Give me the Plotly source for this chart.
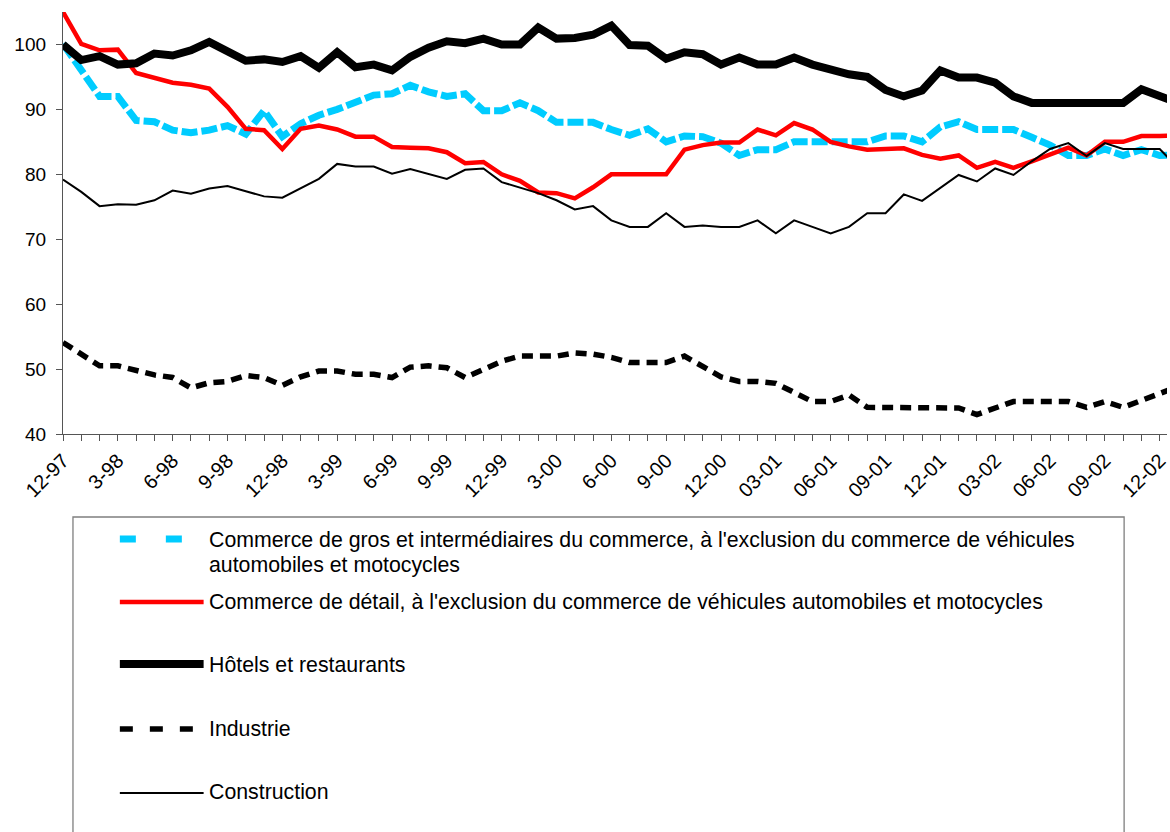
import plotly.graph_objects as go

# ---------------- data ----------------
n_months = 62  # 12-97 .. 01-03
months = []
for i in range(n_months):
    m = (11 + i) % 12 + 1
    yy = (97 + (11 + i) // 12) % 100
    year_full = 1900 + 97 + (11 + i) // 12
    months.append(f"{m}-{yy:02d}" if year_full < 2001 else f"{m:02d}-{yy:02d}")

tick_labels = [lab if idx % 3 == 0 else "" for idx, lab in enumerate(months)]

commerce_gros = [100.1, 96, 92, 92, 88.3, 88.1, 86.8, 86.4, 86.8, 87.5,
                 86.2, 89.8, 85.8, 87.8, 89.1, 90.0, 91.2, 92.2, 92.4, 93.7,
                 92.7, 92.0, 92.4, 89.8, 89.8, 91.0, 89.8, 88.0, 88.0, 88.0,
                 86.9, 86.0, 87.0, 85.0, 85.9, 85.8, 84.8, 82.9, 83.8, 83.8,
                 85.0, 85.0, 85.0, 85.0, 85.0, 85.9, 85.9, 85.0, 87.3, 88.1,
                 86.9, 86.9, 86.9, 85.7, 84.5, 82.9, 82.9, 83.9, 82.9, 83.8,
                 82.9, 83.0]

commerce_detail = [105, 100.1, 99.1, 99.2, 95.6, 94.9, 94.1, 93.8, 93.2, 90.4,
                   87.0, 86.8, 83.9, 87.0, 87.5, 86.9, 85.8, 85.8, 84.2, 84.1,
                   84.0, 83.4, 81.7, 81.9, 80.0, 79.0, 77.2, 77.1, 76.3, 78.0,
                   80.0, 80.0, 80.0, 80.0, 83.8, 84.5, 84.9, 84.9, 86.9, 86.0,
                   87.9, 86.9, 85.0, 84.3, 83.8, 83.9, 84.0, 83.0, 82.4, 82.9,
                   81.0, 81.9, 81.0, 82.0, 83.1, 84.1, 82.9, 85.0, 85.0, 85.9,
                   85.9, 86.0]

hotels = [100, 97.6, 98.2, 96.9, 97.1, 98.6, 98.3, 99.1, 100.4, 99.1,
          97.5, 97.7, 97.3, 98.2, 96.4, 98.8, 96.5, 96.9, 96.0, 98.1,
          99.5, 100.5, 100.2, 100.9, 100.0, 100.0, 102.6, 100.9, 101.0, 101.5,
          102.9, 99.9, 99.8, 97.8, 98.8, 98.5, 96.9, 98.0, 96.9, 96.9,
          98.0, 96.9, 96.0, 95.4, 95.0, 93.0, 92.0, 92.9, 96.0, 94.9,
          94.9, 94.1, 92.0, 91.0, 91.0, 91.0, 91.0, 91.0, 91.0, 93.1,
          92.0, 91.0]

industrie = [54.1, 52.4, 50.5, 50.5, 49.8, 49.1, 48.7, 47.1, 47.9, 48.1,
             49.0, 48.7, 47.5, 48.8, 49.7, 49.7, 49.2, 49.2, 48.7, 50.3,
             50.5, 50.2, 48.7, 50.0, 51.2, 52.0, 52.0, 52.0, 52.5, 52.3,
             51.8, 51.0, 51.0, 51.0, 52.0, 50.4, 48.8, 48.1, 48.1, 47.8,
             46.5, 45.0, 45.0, 46.0, 44.1, 44.1, 44.0, 44.0, 44.0, 44.0,
             43.0, 44.1, 45.0, 45.0, 45.0, 45.0, 44.1, 45.0, 44.1, 45.1,
             46.3, 47.3]

construction = [79.2, 77.3, 75.1, 75.4, 75.3, 76.0, 77.5, 77.0, 77.8, 78.2,
                77.4, 76.6, 76.4, 77.9, 79.3, 81.6, 81.2, 81.2, 80.1, 80.8,
                80.1, 79.3, 80.7, 80.9, 78.8, 77.9, 77.1, 76.0, 74.6, 75.1,
                72.9, 71.9, 71.9, 74.0, 71.9, 72.1, 71.9, 71.9, 72.9, 70.9,
                72.9, 71.9, 70.9, 71.9, 74.0, 74.0, 76.9, 75.9, 77.9, 79.9,
                78.9, 80.9, 79.9, 82.0, 83.9, 84.8, 82.8, 84.8, 83.9, 83.9,
                83.9, 81.0]

series_names = [
    ["Commerce de gros et intermédiaires du commerce, à l'exclusion du commerce de véhicules",
     "automobiles et motocycles"],
    ["Commerce de détail, à l'exclusion du commerce de véhicules automobiles et motocycles"],
    ["Hôtels et restaurants"],
    ["Industrie"],
    ["Construction"],
]
series_values = [commerce_gros, commerce_detail, hotels, industrie, construction]

# ---------------- styles ----------------
CYAN = "#00CCFF"
RED = "#FF0000"
BLACK = "#000000"
line_styles = [
    dict(color=CYAN, width=7, dash="16px,4px"),
    dict(color=RED, width=4.5),
    dict(color=BLACK, width=8),
    dict(color=BLACK, width=5.5, dash="11px,7px"),
    dict(color=BLACK, width=2),
]
legend_styles = [
    dict(color=CYAN, width=7, dash="16px,30px"),
    dict(color=RED, width=4.5),
    dict(color=BLACK, width=8),
    dict(color=BLACK, width=5.5, dash="13px,17px"),
    dict(color=BLACK, width=2),
]
legend_sample_px = [539, 602, 664, 729, 793]
legend_text_px = [[540, 565], [602], [665], [729], [792]]

FONT = "Liberation Sans, Arial, sans-serif"
W, H = 1170, 832
ML, MR, MT, MB = 63, 0, 12, 398
PW, PH = W - ML - MR, H - MT - MB


def px_x(px):
    return (px - ML) / PW


def px_y(py):
    return (H - MB - py) / PH


fig = go.Figure()
for name, vals, st in zip(series_names, series_values, line_styles):
    fig.add_trace(go.Scatter(
        x=months, y=vals, mode="lines", name=" ".join(name),
        line=st, showlegend=False, cliponaxis=True,
    ))

# ---------------- manual legend ----------------
shapes = [dict(type="rect", xref="paper", yref="paper",
               x0=px_x(73), x1=px_x(1127), y0=px_y(517), y1=px_y(845),
               line=dict(color="#7f7f7f", width=1.3), fillcolor="rgba(0,0,0,0)",
               layer="below")]
annotations = []
for name, st, sy, tys in zip(series_names, legend_styles, legend_sample_px, legend_text_px):
    shapes.append(dict(type="line", xref="paper", yref="paper",
                       x0=px_x(120), x1=px_x(204), y0=px_y(sy), y1=px_y(sy),
                       line=st))
    for txt, ty in zip(name, tys):
        annotations.append(dict(text=txt, xref="paper", yref="paper",
                                x=px_x(207), y=px_y(ty), xanchor="left", yanchor="middle",
                                align="left", showarrow=False,
                                font=dict(family=FONT, size=21.3, color="black")))

fig.update_layout(
    width=W, height=H,
    margin=dict(l=ML, r=MR, t=MT, b=MB, pad=0),
    paper_bgcolor="white", plot_bgcolor="white",
    font=dict(family=FONT, size=19, color="black"),
    shapes=shapes, annotations=annotations,
    showlegend=False,
)
fig.update_xaxes(
    type="category", range=[0, 60.4], autorange=False,
    tickmode="array", tickvals=months, ticktext=tick_labels,
    tickangle=-45, ticks="outside", ticklen=6, tickwidth=1, tickcolor="#555",
    showline=True, linecolor="#555", linewidth=1.3, showgrid=False, zeroline=False,
    tickfont=dict(family=FONT, size=20, color="black"),
)
fig.update_yaxes(
    range=[40, 105], autorange=False, tickmode="array", tickvals=[40, 50, 60, 70, 80, 90, 100],
    ticks="outside", ticklen=6, tickwidth=1, tickcolor="#555",
    showline=True, linecolor="#555", linewidth=1.3, showgrid=False, zeroline=False,
    tickfont=dict(family=FONT, size=19, color="black"), ticklabelstandoff=6,
)

fig.write_html("out.html", config={"displayModeBar": False},
               post_script="document.body.style.margin='0';")
